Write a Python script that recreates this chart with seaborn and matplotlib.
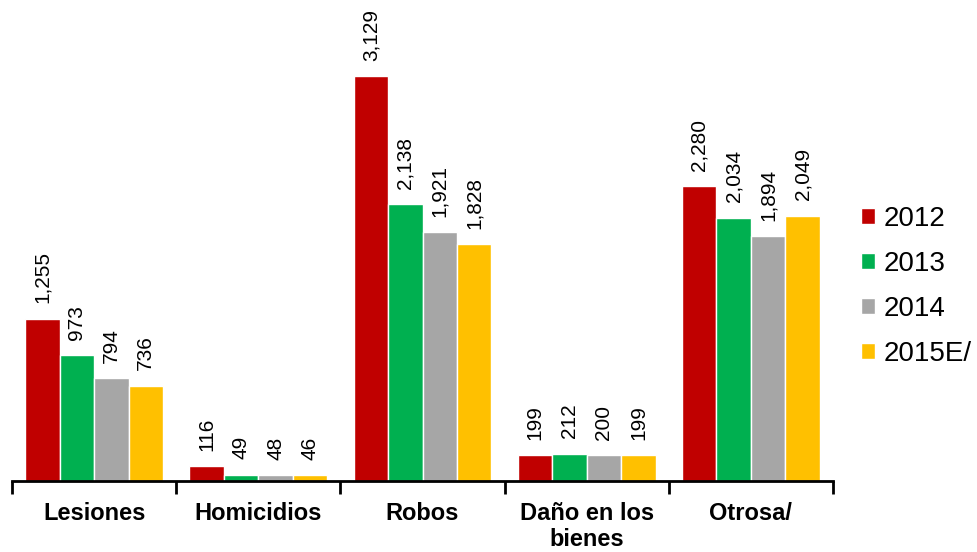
import numpy as np
import matplotlib
matplotlib.use("Agg")
import matplotlib.pyplot as plt
import seaborn as sns
import pandas as pd

categories = ["Lesiones", "Homicidios", "Robos", "Daño en los\nbienes", "Otrosa/"]
years = ["2012", "2013", "2014", "2015E/"]
v2012 = [1255, 116, 3129, 199, 2280]
v2013 = [973, 49, 2138, 212, 2034]
v2014 = [794, 48, 1921, 200, 1894]
v2015 = [736, 46, 1828, 199, 2049]
colors = ["#C00000", "#00B050", "#A6A6A6", "#FFC000"]

df = pd.DataFrame({
    "cat": categories * 4,
    "year": [y for y in years for _ in categories],
    "val": v2012 + v2013 + v2014 + v2015,
})

sns.set_style("white")
plt.rcParams['font.family'] = ['Liberation Sans', 'DejaVu Sans']
plt.rcParams['text.color'] = 'black'
plt.rcParams['xtick.color'] = 'black'

fig = plt.figure(figsize=(9.77, 5.52), dpi=100)
ax = fig.add_axes([12 / 977, 71 / 552, 821 / 977, 481 / 552])

sns.barplot(data=df, x="cat", y="val", hue="year", palette=colors,
            width=0.84, saturation=1, ax=ax, legend=True)

for c in ax.containers:
    ax.bar_label(c, labels=[f"{v:,.0f}" for v in c.datavalues],
                 rotation=90, padding=11, fontsize=15, color="black")

ax.set_ylim(0, 3716)
ax.set_xlim(-0.5, 4.5)
ax.set_yticks([])
ax.set_xlabel("")
ax.set_ylabel("")
for s in ["top", "right", "left"]:
    ax.spines[s].set_visible(False)
ax.spines["bottom"].set_linewidth(2)
ax.spines["bottom"].set_color("black")

ax.set_xticks(np.arange(-0.5, 5, 1))
ax.set_xticklabels([])
ax.tick_params(axis="x", which="major", direction="out", length=9, width=2,
               bottom=True, color="black")
ax.set_xticks(np.arange(5), minor=True)
ax.set_xticklabels(categories, minor=True, fontsize=17, fontweight="bold",
                   color="black", linespacing=1.15)
ax.tick_params(axis="x", which="minor", length=0, pad=15)

ax.legend(loc="center left", bbox_to_anchor=(1.021, 0.405), frameon=False,
          fontsize=20, handlelength=0.5, handleheight=0.5, handletextpad=0.3,
          labelspacing=0.68, borderaxespad=0)

fig.savefig("out.png", dpi=100)
